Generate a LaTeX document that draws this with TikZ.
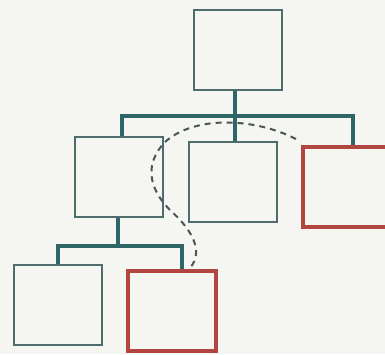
\documentclass[tikz,border=0pt]{standalone}
\begin{document}
\begin{tikzpicture}[x=1pt,y=-1pt,
  box/.style={draw=boxc,line width=1.8pt,minimum width=88pt,minimum height=80pt,inner sep=0pt},
  redbox/.style={draw=redc,line width=3.2pt,minimum width=88pt,minimum height=80pt,inner sep=0pt},
  conn/.style={draw=linec,line width=3.6pt},
  dashc/.style={draw=dashcol,line width=2pt,dash pattern=on 6pt off 5pt}]
\definecolor{boxc}{HTML}{4E6B6E}
\definecolor{linec}{HTML}{2E6668}
\definecolor{redc}{HTML}{B0463F}
\definecolor{dashcol}{HTML}{4A5656}
\definecolor{bg}{HTML}{F5F5F1}
\fill[bg] (0,0) rectangle (385,354);
\useasboundingbox (0,0) rectangle (385,354);
\coordinate (b1) at (235,116);
\coordinate (b2) at (118,246);
\coordinate (d0) at (296,139);
\coordinate (d1) at (165,142);
\coordinate (d2) at (170,210);
\coordinate (d3) at (190,268);
\node[box] (top) at (238,50) {};
\node[box] (ml) at (119,177) {};
\node[box] (mm) at (233,182) {};
\node[redbox] (mr) at (347,187) {};
\node[box] (bl) at (58,305) {};
\node[redbox] (br) at (172,311) {};
\draw[conn] (top.south -| b1) -- (b1);
\draw[conn] (ml.north -| 122,0) |- (b1) -| (mr.north -| 353,0);
\draw[conn] (b1) -- (mm.north -| b1);
\draw[conn] (ml.south -| b2) -- (b2);
\draw[conn] (bl.north) |- (b2) -| (br.north -| 182,0);
\draw[dashc] (d0) .. controls (255,118) and (195,115) .. (d1)
  .. controls (143,165) and (150,190) .. (d2)
  .. controls (190,228) and (205,250) .. (d3);
\end{tikzpicture}
\end{document}
